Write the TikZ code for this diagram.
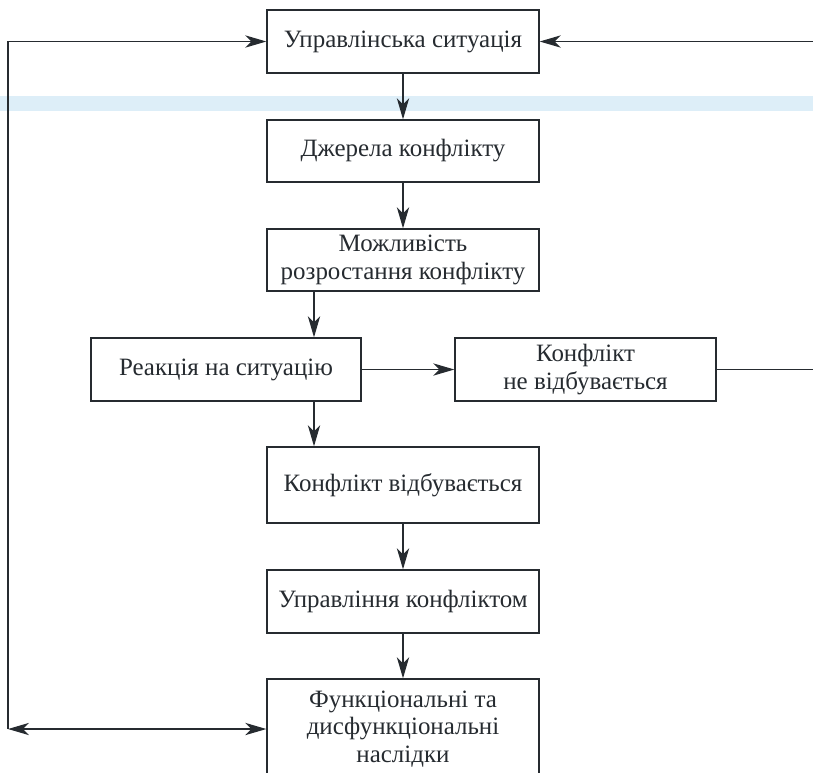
\documentclass[tikz,border=0pt]{standalone}
\usepackage{fontspec}
\setmainfont{Liberation Serif}
\usetikzlibrary{arrows.meta}
\definecolor{wmark}{HTML}{DDEEF8}
\definecolor{ink}{HTML}{262B30}

\begin{document}
\begin{tikzpicture}[x=0.02cm,y=-0.02cm,
    flow/.style={draw=ink,line width=0.75pt,-{Stealth[length=12pt,width=7pt,inset=3.5pt]}},
    both/.style={draw=ink,line width=0.75pt,{Stealth[length=12pt,width=7pt,inset=3.5pt]}-{Stealth[length=12pt,width=7pt,inset=3.5pt]}},
    box/.style={rectangle,draw=ink,fill=white,line width=0.8pt,align=center,text=ink,
        font=\fontsize{14.2}{15.5}\selectfont,minimum width=5.44cm,minimum height=1.26cm,inner sep=2pt}]
        \useasboundingbox (0,0) rectangle (813,772);
        \clip (0,0) rectangle (813,772);
        \fill[wmark] (0,96) rectangle (813,111);
        % main column
        \node[box] (sit) at (403,41.5) {Управлінська ситуація};
        \node[box,minimum height=1.24cm] (src) at (403,151) {Джерела конфлікту};
        \node[box,minimum height=1.24cm] (grow) at (403,260) {Можливість\\розростання конфлікту};
        \node[box,minimum width=5.4cm] (react) at (226,369.5) {Реакція на ситуацію};
        \node[box,minimum width=5.22cm] (none) at (585.5,369.5) {Конфлікт\\не відбувається};
        \node[box,minimum height=1.52cm] (occ) at (403,485) {Конфлікт відбувається};
        \node[box] (mgmt) at (403,601.5) {Управління конфліктом};
        \node[box,minimum height=2cm] (res) at (403,729) {Функціональні та\\дисфункціональні\\наслідки};
        \coordinate (lc) at (8,729);
        \coordinate (rc) at (830,369.5);
        % connectors
        \draw[flow] (sit) -- (src);
        \draw[flow] (src) -- (grow);
        \draw[flow] (grow.south -| 314,0) -- (react.north -| 314,0);
        \draw[flow] (react) -- (none);
        \draw[flow] (react.south -| 314,0) -- (occ.north -| 314,0);
        \draw[flow] (occ) -- (mgmt);
        \draw[flow] (mgmt) -- (res);
        \draw[flow] (none.east) -- (rc) |- (sit.east);
        \draw[both] (res.west) -- (lc);
        \draw[flow] (lc) |- (sit.west);
    \end{tikzpicture}
\end{document}
